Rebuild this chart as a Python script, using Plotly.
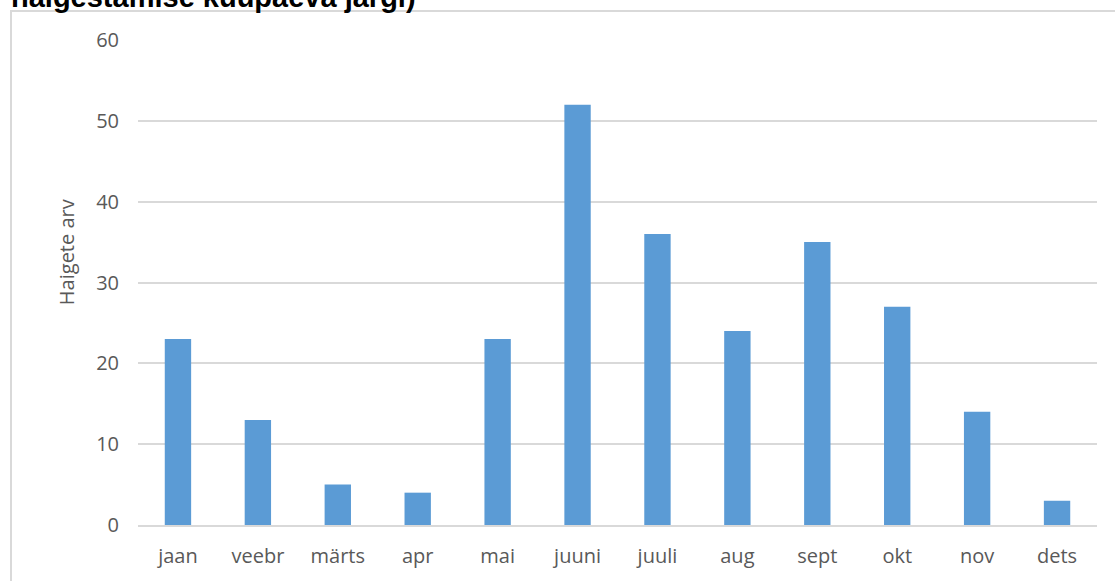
import plotly.graph_objects as go

months = ["jaan", "veebr", "märts", "apr", "mai", "juuni", "juuli", "aug", "sept", "okt", "nov", "dets"]
cases = [23, 13, 5, 4, 23, 52, 36, 24, 35, 27, 14, 3]
y_ticks = [0, 10, 20, 30, 40, 50, 60]
title_text = "haigestamise kuupäeva järgi)"
y_title = "Haigete arv"

W, H = 1115, 581
L, R, T, B = 138, 18, 40, 54
pw, ph = W - L - R, H - T - B

def px_x(p):
    return (p - L) / pw

def px_y(p):
    return (H - B - p) / ph

fig = go.Figure()
fig.add_trace(go.Bar(x=months, y=cases, marker=dict(color="#5B9BD5", line=dict(width=0)), width=0.33))

font_fam = "Open Sans, Arial, sans-serif"
fig.update_layout(
    width=W, height=H,
    margin=dict(l=L, r=R, t=T, b=B),
    paper_bgcolor="white", plot_bgcolor="white",
    showlegend=False,
    xaxis=dict(showgrid=False, showline=True, linecolor="#D9D9D9", linewidth=1.5,
               tickfont=dict(family=font_fam, size=20, color="#595959"),
               ticks="", ticklabelstandoff=12, fixedrange=True),
    yaxis=dict(range=[0, 60], tickvals=y_ticks, showgrid=True, gridcolor="#D9D9D9", gridwidth=1.5,
               zeroline=False, showline=False,
               tickfont=dict(family=font_fam, size=20, color="#595959"),
               ticks="", ticklabelstandoff=18, fixedrange=True),
    shapes=[dict(type="rect", xref="paper", yref="paper",
                 x0=px_x(11), x1=px_x(1130), y0=px_y(600), y1=px_y(11),
                 line=dict(color="#D9D9D9", width=2), fillcolor="rgba(0,0,0,0)", layer="below")],
    annotations=[
        dict(text=y_title, xref="paper", yref="paper", x=px_x(66), y=px_y(253),
             xanchor="center", yanchor="middle", textangle=-90, showarrow=False,
             font=dict(family=font_fam, size=20, color="#595959")),
        dict(text="<b>" + title_text + "</b>", xref="paper", yref="paper", x=px_x(10), y=px_y(14),
             xanchor="left", yanchor="bottom", showarrow=False, borderpad=0,
             font=dict(family="Liberation Sans, Arial, sans-serif", size=29, color="black")),
    ],
)

fig.write_html("out.html", config={"displayModeBar": False},
               post_script="document.body.style.margin='0';")
